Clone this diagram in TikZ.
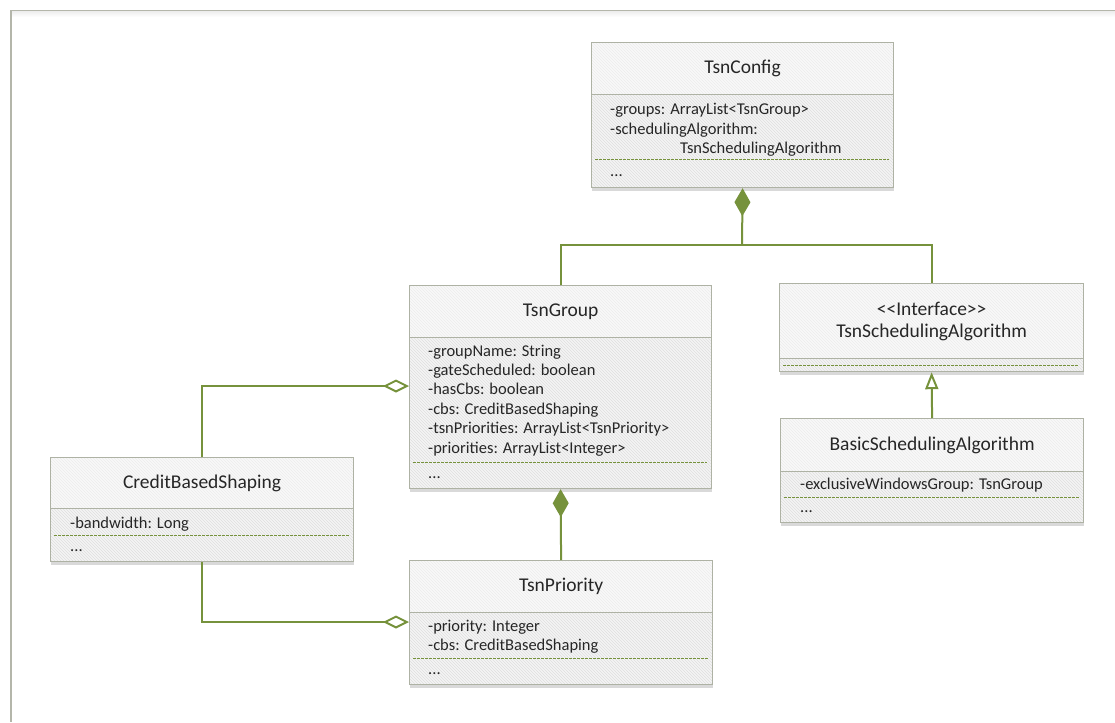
\documentclass[tikz,border=0pt]{standalone}
\usepackage{fontspec}
\setmainfont{Carlito}
\usetikzlibrary{
    arrows.meta,
    patterns,
    shadows,
    positioning
}

\definecolor{umlgreen}{HTML}{76923C}
\definecolor{boxline}{HTML}{AEB2A4}
\definecolor{txtgray}{HTML}{262626}
\definecolor{framegray}{HTML}{B4B6AA}

\tikzset{
    clsbox/.style={draw=boxline, line width=1.2pt, anchor=north west, inner sep=0pt,
        drop shadow={shadow xshift=0pt, shadow yshift=-3pt, opacity=0.3, fill=gray},
        text=txtgray, align=center},
    clshead/.style={clsbox, preaction={fill=gray!5}, pattern=north west lines,
        pattern color=gray!15, font=\fontsize{19.5}{22}\selectfont},
    clsbody/.style={clsbox, preaction={fill=gray!9}, pattern=north west lines,
        pattern color=gray!25},
    attr/.style={anchor=base west, inner sep=0pt, text=txtgray,
        font=\fontsize{16.5}{19}\selectfont},
    sep/.style={umlgreen, line width=1pt, dash pattern=on 2.5pt off 1.5pt},
    conn/.style={umlgreen, line width=2pt},
    comp/.style={conn, {Diamond[length=28pt, width=16pt]}-},
    aggr/.style={conn, {Diamond[open, fill=white, length=26pt, width=13pt]}-},
    gen/.style={conn, -{Triangle[open, fill=white, length=17pt, width=13pt]}}
}

\begin{document}
\begin{tikzpicture}[x=1pt, y=-1pt]
    \useasboundingbox (0,0) rectangle (1115,722);
    % frame
    \shade[top color=gray!14, bottom color=white] (11,11) rectangle (1115,17);
    \draw[framegray, line width=1.5pt] (1115,10.5) -- (11,10.5) -- (11,722);

    % TsnConfig
    \node[clshead, minimum width=302pt, minimum height=52pt] (cfg) at (591,42) {TsnConfig};
    \node[clsbody, minimum width=302pt, minimum height=93pt] (cfgB) at (591,94) {};
    \foreach \t [count=\i from 0] in {-groups: ArrayList<TsnGroup>, -schedulingAlgorithm:, \hspace*{70pt}TsnSchedulingAlgorithm}
        \node[attr] (cfgA\i) at (610,{115+19.5*\i}) {\t};
    \draw[sep] (595,160) -- (889,160);
    \node[attr] (cfgD) at (610,177) {...};

    % TsnGroup
    \node[clshead, minimum width=302pt, minimum height=52pt] (grp) at (409,285) {TsnGroup};
    \node[clsbody, minimum width=302pt, minimum height=151pt] (grpB) at (409,337) {};
    \foreach \t [count=\i from 0] in {-groupName: String, -gateScheduled: boolean, -hasCbs: boolean, -cbs: CreditBasedShaping, -tsnPriorities: ArrayList<TsnPriority>, -priorities: ArrayList<Integer>}
        \node[attr] (grpA\i) at (428,{356+19.4*\i}) {\t};
    \draw[sep] (413,462) -- (707,462);
    \node[attr] (grpD) at (428,478) {...};

    % interface
    \node[clshead, minimum width=304pt, minimum height=75pt] (ifc) at (779,283) {<{}<Interface>{}>\\TsnSchedulingAlgorithm};
    \node[clsbody, minimum width=304pt, minimum height=13pt] (ifcB) at (779,358) {};
    \draw[sep] (783,365) -- (1079,365);

    % BasicSchedulingAlgorithm
    \node[clshead, minimum width=303pt, minimum height=53pt] (bsa) at (780,418) {BasicSchedulingAlgorithm};
    \node[clsbody, minimum width=303pt, minimum height=51pt] (bsaB) at (780,471) {};
    \node[attr] (bsaA) at (800,489) {-exclusiveWindowsGroup: TsnGroup};
    \draw[sep] (784,497) -- (1079,497);
    \node[attr] (bsaD) at (800,512) {...};

    % CreditBasedShaping
    \node[clshead, minimum width=303pt, minimum height=51pt] (cbs) at (50,457) {CreditBasedShaping};
    \node[clsbody, minimum width=303pt, minimum height=53pt] (cbsB) at (50,508) {};
    \node[attr] (cbsA) at (70,528) {-bandwidth: Long};
    \draw[sep] (54,535) -- (349,535);
    \node[attr] (cbsD) at (70,551) {...};

    % TsnPriority
    \node[clshead, minimum width=303pt, minimum height=52pt] (pri) at (409,560) {TsnPriority};
    \node[clsbody, minimum width=303pt, minimum height=72pt] (priB) at (409,612) {};
    \foreach \t [count=\i from 0] in {-priority: Integer, -cbs: CreditBasedShaping}
        \node[attr] (priA\i) at (428,{631+19.5*\i}) {\t};
    \draw[sep] (413,658) -- (708,658);
    \node[attr] (priD) at (428,674) {...};

    % connectors
    \coordinate (jn) at (742,245);
    \draw[comp] (cfgB.south) -- (jn);
    \draw[conn] (grp.north) |- (jn) -| (ifc.north);
    \draw[comp] (grpB.south) -- (pri.north);
    \draw[aggr] (grpB.west |- 0,386) -| (cbs.north);
    \draw[aggr] (priB.west |- 0,622) -| (cbsB.south);
    \draw[gen] (bsa.north) -- (ifcB.south);
\end{tikzpicture}
\end{document}
